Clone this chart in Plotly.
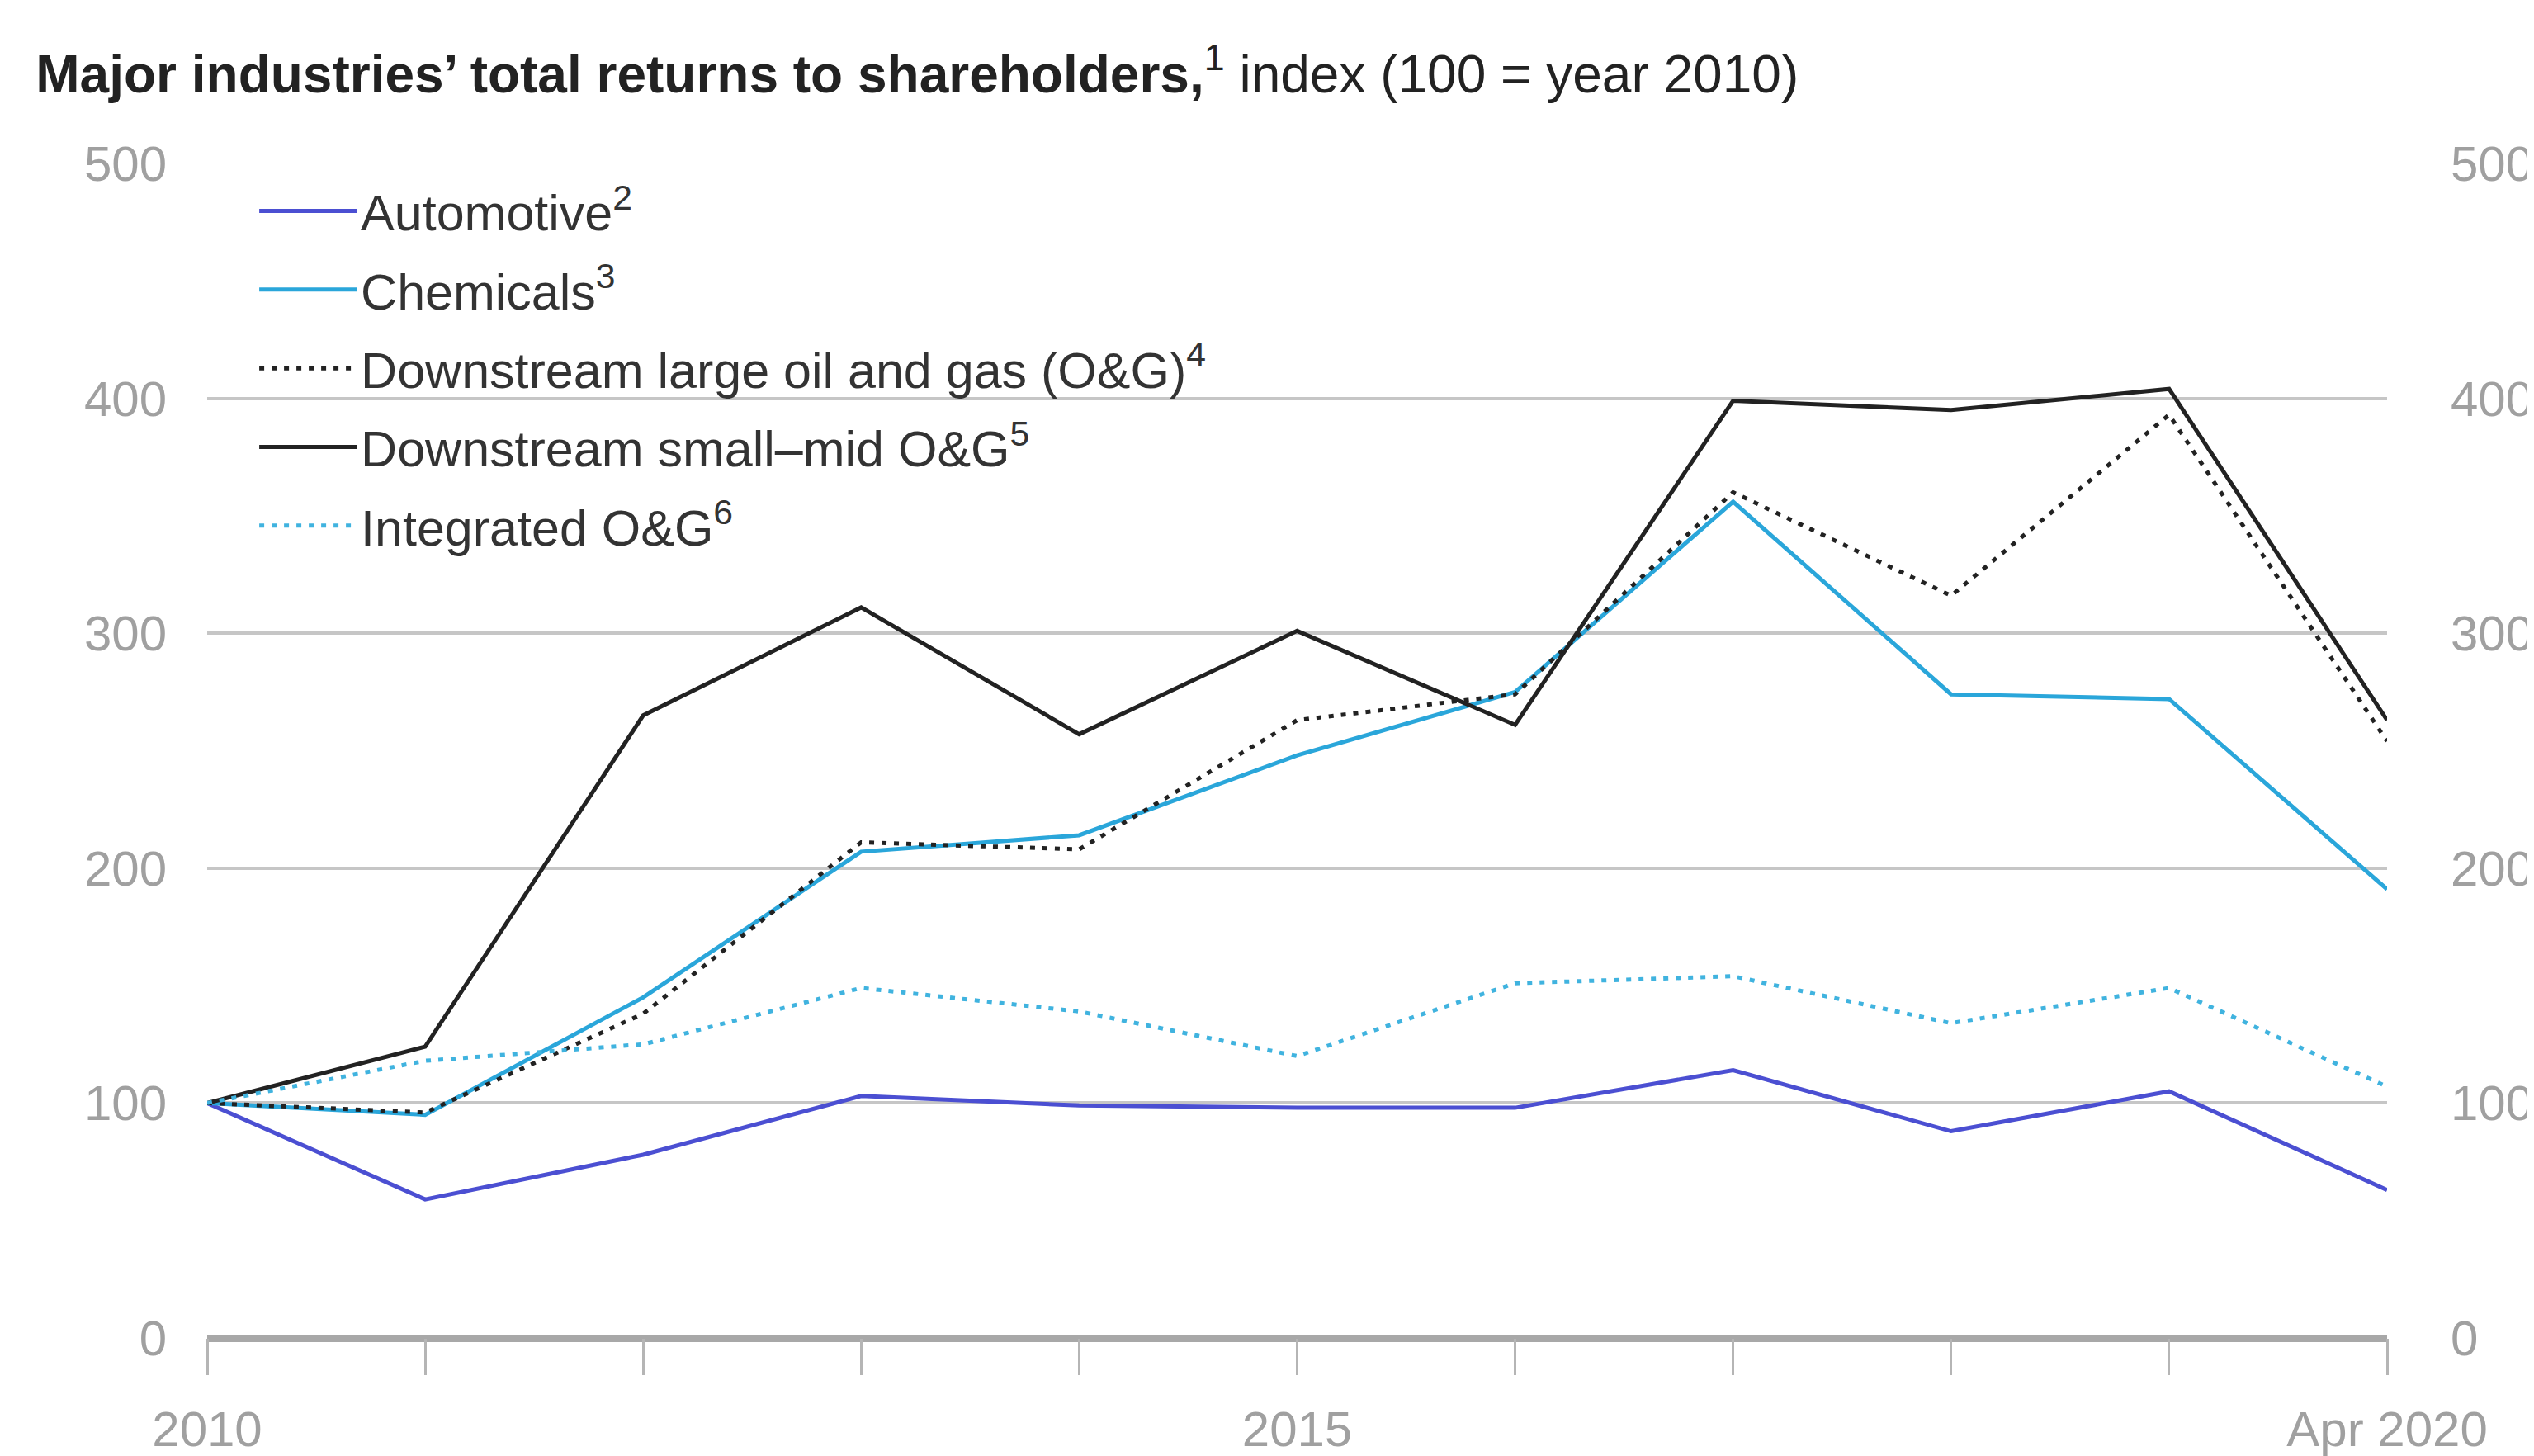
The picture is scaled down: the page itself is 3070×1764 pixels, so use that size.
import plotly.graph_objects as go

years = ["2010", "2011", "2012", "2013", "2014", "2015", "2016", "2017", "2018", "2019", "Apr 2020"]
tick_text = ["2010", "", "", "", "", "2015", "", "", "", "", "Apr 2020"]
y_ticks = [0, 100, 200, 300, 400, 500]

automotive = [100, 59, 78, 103, 99, 98, 98, 114, 88, 105, 63]
chemicals = [100, 95, 145, 207, 214, 248, 275, 356, 274, 272, 191]
downstream_large = [100, 96, 138, 211, 208, 263, 274, 360, 316, 393, 254]
downstream_small = [100, 124, 265, 311, 257, 301, 261, 399, 395, 404, 263]
integrated = [100, 118, 125, 149, 139, 120, 151, 154, 134, 149, 107]

series = [
    ("Automotive<sup>2</sup>", automotive, "#4b4fd2", "solid"),
    ("Chemicals<sup>3</sup>", chemicals, "#2aa6da", "solid"),
    ("Downstream large oil and gas (O&G)<sup>4</sup>", downstream_large, "#222222", "6px,9px"),
    ("Downstream small–mid O&G<sup>5</sup>", downstream_small, "#222222", "solid"),
    ("Integrated O&G<sup>6</sup>", integrated, "#40b3df", "6px,9px"),
]

FONT = "Liberation Sans"

fig = go.Figure()
for i, (name, vals, color, dash) in enumerate(series):
    fig.add_trace(go.Scatter(
        x=years, y=vals, name=name, mode="lines",
        line=dict(color=color, width=5, dash=dash),
        legendgroup=f"g{i}",
    ))

# invisible helper trace so the right-hand axis is drawn
fig.add_trace(go.Scatter(x=years, y=automotive, yaxis="y2", mode="lines",
                         line=dict(width=0), opacity=0, showlegend=False, hoverinfo="skip"))

axis_font = dict(family=FONT, size=60, color="#a0a0a0")

fig.update_layout(
    width=3070, height=1764,
    paper_bgcolor="white", plot_bgcolor="white",
    margin=dict(l=243, r=186, t=190, b=151, autoexpand=False),
    font=dict(family=FONT),
    title=dict(
        text="<b>Major industries’ total returns to shareholders,</b><sup>1</sup> index (100 = year 2010)",
        x=0.0115, xref="container", xanchor="left",
        y=0.954, yanchor="middle",
        font=dict(family=FONT, size=64, color="#222222"),
    ),
    legend=dict(
        x=0.022, y=0.992, xanchor="left", yanchor="top",
        font=dict(family=FONT, size=61, color="#333333"),
        bgcolor="rgba(0,0,0,0)",
        tracegroupgap=13,
        itemwidth=118,
    ),
    xaxis=dict(
        type="category",
        range=[0, 10],
        tickmode="array", tickvals=years, ticktext=tick_text,
        ticks="outside", ticklen=44, tickwidth=3, tickcolor="#b5b5b5",
        showgrid=False, showline=False, zeroline=False,
        tickfont=axis_font,
        ticklabelstandoff=14,
        automargin=False,
    ),
    yaxis=dict(
        range=[0, 500],
        tickmode="array", tickvals=y_ticks,
        showgrid=True, gridcolor="#c6c6c6", gridwidth=4,
        zeroline=True, zerolinecolor="#a8a8a8", zerolinewidth=9,
        showline=False, ticks="",
        tickfont=axis_font,
        ticklabelstandoff=48,
        automargin=False,
    ),
    yaxis2=dict(
        range=[0, 500], overlaying="y", side="right",
        tickmode="array", tickvals=y_ticks,
        showgrid=False, zeroline=False, showline=False, ticks="",
        tickfont=axis_font,
        ticklabelstandoff=76,
        automargin=False,
    ),
    showlegend=True,
)

fig.write_html("out.html")
